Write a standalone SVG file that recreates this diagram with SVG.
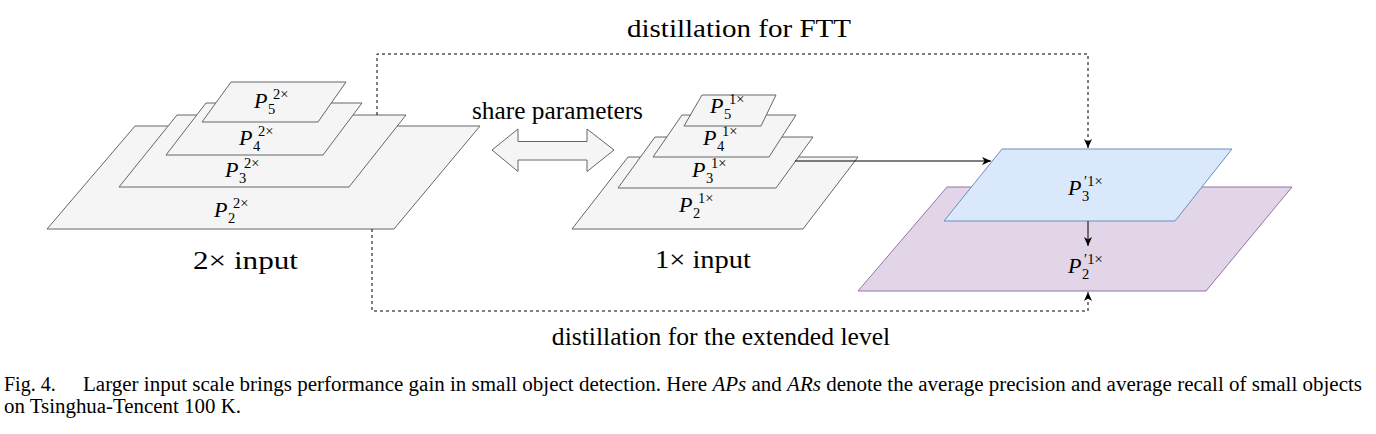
<svg xmlns="http://www.w3.org/2000/svg" width="1376" height="434" viewBox="0 0 1376 434">
<style>
.g{fill:#f5f5f5;stroke:#666666;stroke-width:1}
.b{fill:#dae8fc;stroke:#6c8ebf;stroke-width:1}
.pu{fill:#e1d5e7;stroke:#9673a6;stroke-width:1}
.m,.t,.cap{font-family:"Liberation Serif","Times New Roman",serif;fill:#000}
.m{font-size:22px;font-style:italic}
.s{font-size:14.5px;font-style:normal}
.t{font-size:25.6px}
.cap{font-size:20px}
.it{font-style:italic}
.d{fill:none;stroke:#000;stroke-width:1;stroke-dasharray:3 3}
.c{fill:none;stroke:#000;stroke-width:1}
</style>
<defs>
<marker id="ah" markerUnits="userSpaceOnUse" markerWidth="10" markerHeight="10" refX="9" refY="4" orient="auto">
<path d="M0,0 L9,4 L0,8 L2.5,4 z" fill="#000"/>
</marker>
</defs>
<rect width="1376" height="434" fill="#fff"/>

<g id="n2x-p2"><polygon class="g" points="135,126 480,126 394,229 47,229"/>
<text class="m" x="214" y="217">P<tspan class="s" x="228" y="223">2</tspan><tspan class="s" x="233" y="208">2×</tspan></text></g>
<g id="n2x-p3"><polygon class="g" points="177,115 406,115 349,187 119,187"/>
<text class="m" x="225" y="177">P<tspan class="s" x="239" y="183">3</tspan><tspan class="s" x="244" y="168">2×</tspan></text></g>
<g id="n2x-p4"><polygon class="g" points="206,103 362,103 323,155 166,155"/>
<text class="m" x="239" y="145">P<tspan class="s" x="253" y="151">4</tspan><tspan class="s" x="258" y="136">2×</tspan></text></g>
<g id="n2x-p5"><polygon class="g" points="231,82 346,82 318,122 202,122"/>
<text class="m" x="254" y="108">P<tspan class="s" x="268" y="114">5</tspan><tspan class="s" x="273" y="99">2×</tspan></text></g>
<g id="lbl-2x"><text class="t" x="193" y="269" textLength="105" lengthAdjust="spacingAndGlyphs">2×  input</text></g>

<g id="share"><polygon class="g" points="492,150 518,129 518,141.5 587,141.5 587,129 614,150 587,171.5 587,160 518,160 518,171.5"/>
<text class="t" x="472" y="119" textLength="171" lengthAdjust="spacingAndGlyphs" font-size="24">share parameters</text></g>

<g id="n1x-p2"><polygon class="g" points="628,157 858,157 803,229 572,229"/>
<text class="m" x="679" y="212">P<tspan class="s" x="693" y="218">2</tspan><tspan class="s" x="698" y="203">1×</tspan></text></g>
<g id="n1x-p3"><polygon class="g" points="655,137 813,137 776,188 618,188"/>
<text class="m" x="692" y="177">P<tspan class="s" x="706" y="183">3</tspan><tspan class="s" x="711" y="168">1×</tspan></text></g>
<g id="n1x-p4"><polygon class="g" points="682,115 796,115 769,157 653,157"/>
<text class="m" x="703" y="145">P<tspan class="s" x="717" y="151">4</tspan><tspan class="s" x="722" y="136">1×</tspan></text></g>
<g id="n1x-p5"><polygon class="g" points="702,95 776,95 761,126 684,126"/>
<text class="m" x="710" y="113">P<tspan class="s" x="724" y="119">5</tspan><tspan class="s" x="729" y="104">1×</tspan></text></g>
<g id="lbl-1x"><text class="t" x="655" y="268" textLength="96" lengthAdjust="spacingAndGlyphs">1×  input</text></g>

<g id="p2prime"><polygon class="pu" points="947,187 1292,187 1206,291 858,291"/>
<text class="m" x="1068" y="273">P<tspan class="s" x="1082" y="279">2</tspan><tspan class="s" x="1084" y="264">′1×</tspan></text></g>
<g id="p3prime"><polygon class="b" points="1002,149 1232,149 1175,221 944,221"/>
<text class="m" x="1068" y="195">P<tspan class="s" x="1082" y="201">3</tspan><tspan class="s" x="1084" y="186">′1×</tspan></text></g>

<g id="connectors">
<path class="d" d="M377,115 V54 H1088 V148" marker-end="url(#ah)"/>
<path class="d" d="M372,229 V311 H1088 V292" marker-end="url(#ah)"/>
<path class="c" d="M795,161 H991" marker-end="url(#ah)" stroke="#333"/>
<path class="c" d="M1088,221 V246" marker-end="url(#ah)" stroke="#333"/>
</g>
<g id="edge-labels">
<text class="t" x="627" y="37" textLength="224" lengthAdjust="spacingAndGlyphs" font-size="27">distillation for FTT</text>
<text class="t" x="721" y="345" text-anchor="middle">distillation for the extended level</text>
</g>

<g id="caption">
<text class="cap" x="4" y="391">Fig. 4.</text>
<text class="cap" x="83" y="391" textLength="1279" lengthAdjust="spacingAndGlyphs">Larger input scale brings performance gain in small object detection. Here <tspan class="it">APs</tspan> and <tspan class="it">ARs</tspan> denote the average precision and average recall of small objects</text>
<text class="cap" x="4" y="413" textLength="237" lengthAdjust="spacingAndGlyphs">on Tsinghua-Tencent 100 K.</text>
</g>
</svg>
